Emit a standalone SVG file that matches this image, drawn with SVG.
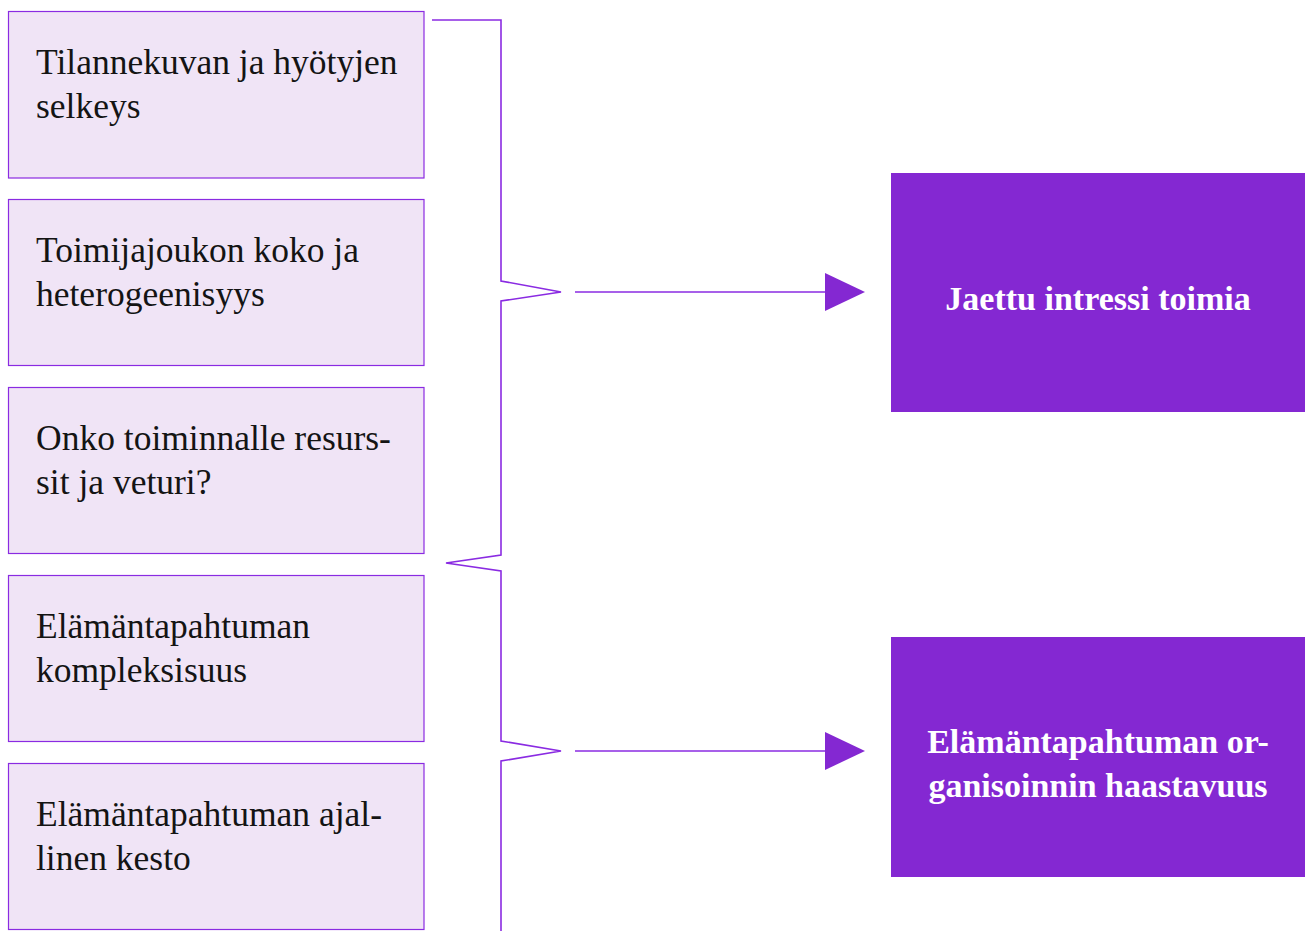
<svg xmlns="http://www.w3.org/2000/svg" width="1306" height="931" viewBox="0 0 1306 931">
  <style>
    .src rect { fill: #f0e4f6; stroke: #8a2be2; stroke-width: 1.2; }
    .src text { font-family: "Liberation Serif", "Times New Roman", serif; font-size: 35.5px; fill: #141414; }
    .dst rect { fill: #8428d2; }
    .dst text { font-family: "Liberation Serif", "Times New Roman", serif; font-size: 34px; font-weight: bold; fill: #ffffff; text-anchor: middle; }
    .conn { fill: none; stroke: #8a2be2; stroke-width: 1.6; }
  </style>
  <defs>
    <marker id="head" viewBox="0 0 40 38" refX="0" refY="19" markerWidth="40" markerHeight="38" markerUnits="userSpaceOnUse" orient="auto">
      <path d="M0,0 L40,19 L0,38 Z" fill="#8428d2"/>
    </marker>
  </defs>
  <rect width="1306" height="931" fill="#ffffff"/>

  <!-- influencing factors -->
  <g id="n1" class="src">
    <rect x="8.5" y="11.5" width="415.5" height="166.5"/>
    <text x="36" y="74">Tilannekuvan ja hyötyjen</text>
    <text x="36" y="118">selkeys</text>
  </g>
  <g id="n2" class="src">
    <rect x="8.5" y="199.5" width="415.5" height="166"/>
    <text x="36" y="262">Toimijajoukon koko ja</text>
    <text x="36" y="306">heterogeenisyys</text>
  </g>
  <g id="n3" class="src">
    <rect x="8.5" y="387.5" width="415.5" height="166"/>
    <text x="36" y="450">Onko toiminnalle resurs-</text>
    <text x="36" y="494">sit ja veturi?</text>
  </g>
  <g id="n4" class="src">
    <rect x="8.5" y="575.5" width="415.5" height="166"/>
    <text x="36" y="638">Elämäntapahtuman</text>
    <text x="36" y="682">kompleksisuus</text>
  </g>
  <g id="n5" class="src">
    <rect x="8.5" y="763.5" width="415.5" height="166"/>
    <text x="36" y="826">Elämäntapahtuman ajal-</text>
    <text x="36" y="870">linen kesto</text>
  </g>

  <!-- outcomes -->
  <g id="t1" class="dst">
    <rect x="891" y="173" width="414" height="239"/>
    <text x="1098" y="310">Jaettu intressi toimia</text>
  </g>
  <g id="t2" class="dst">
    <rect x="891" y="637" width="414" height="240"/>
    <text x="1098" y="753">Elämäntapahtuman or-</text>
    <text x="1098" y="797">ganisoinnin haastavuus</text>
  </g>

  <g id="connectors">
    <!-- braces grouping the factors -->
    <path class="conn" d="M432,20 H501 V281 L561,292 L501,301 V555 L446,563 L501,571 V741 L561,751 L501,761 V931"/>
    <line class="conn" x1="575" y1="292" x2="825" y2="292" marker-end="url(#head)"/>
    <line class="conn" x1="575" y1="751" x2="825" y2="751" marker-end="url(#head)"/>
  </g>
</svg>
